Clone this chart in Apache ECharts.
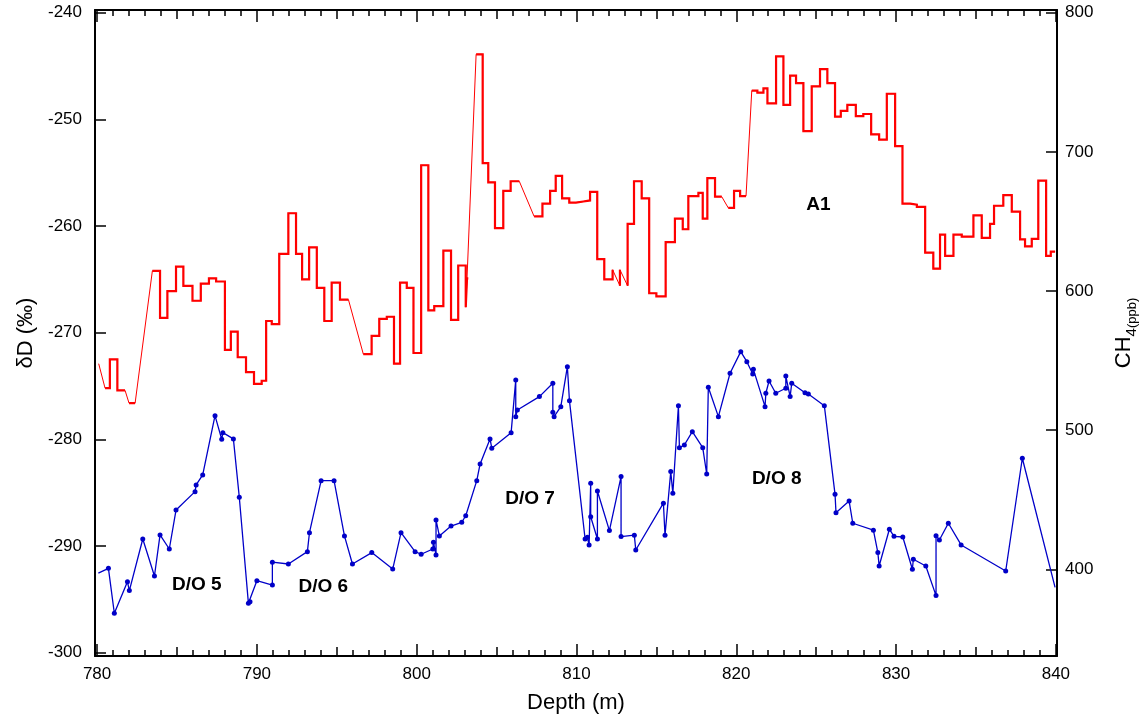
<!DOCTYPE html>
<html>
<head>
<meta charset="UTF-8">
<script src="https://cdn.jsdelivr.net/npm/echarts@6/dist/echarts.min.js"></script>
<style>
html, body { margin: 0; padding: 0; background: #fff; }
#chart { width: 1141px; height: 716px; }
</style>
</head>
<body>
<div id="chart"></div>
<script>
// ========================
// data
// ========================

// δD record: every sample covers a depth interval [top, bottom]
const dDTop = [
    780.1, 780.5, 780.8, 781.27, 782.0, 783.46, 783.94, 784.4, 784.94, 785.4,
    785.97, 786.49, 787.0, 787.45, 788.0, 788.37, 788.8, 789.32, 789.82, 790.3,
    790.58, 790.93, 791.4, 791.97, 792.45, 792.83, 793.27, 793.75, 794.22, 794.68,
    795.2, 796.66, 797.18, 797.66, 798.13, 798.58, 798.96, 799.38, 799.8, 800.28,
    800.73, 801.1, 801.67, 802.15, 802.6, 803.07, 803.15, 803.72, 804.13, 804.48,
    804.9, 805.42, 805.88, 807.35, 807.87, 808.35, 808.7, 809.1, 809.55, 809.97,
    810.43, 810.85, 811.3, 811.74, 812.26, 812.72, 812.72, 813.2, 813.2, 813.6,
    814.08, 814.55, 815.0, 815.58, 816.16, 816.65, 817.0, 817.63, 817.9, 818.19,
    818.67, 819.5, 819.86, 820.24, 820.97, 821.32, 821.7, 821.95, 822.49, 822.95,
    823.37, 823.74, 824.2, 824.72, 825.24, 825.7, 826.18, 826.54, 826.95, 827.48,
    827.95, 828.44, 828.94, 829.42, 829.94, 830.4, 830.88, 831.3, 831.82, 832.33,
    832.75, 833.07, 833.59, 834.11, 834.84, 835.36, 835.88, 836.13, 836.71, 837.24,
    837.76, 838.07, 838.49, 838.9, 839.39, 839.68
];
const dDBottom = [
    780.1, 780.8, 781.27, 781.75, 782.38, 783.94, 784.4, 784.94, 785.4, 785.97,
    786.49, 787.0, 787.45, 788.0, 788.37, 788.8, 789.32, 789.82, 790.3, 790.58,
    790.93, 791.4, 791.97, 792.45, 792.83, 793.27, 793.75, 794.22, 794.68, 795.2,
    795.73, 797.18, 797.66, 798.13, 798.58, 798.96, 799.38, 799.8, 800.28, 800.73,
    801.1, 801.67, 802.15, 802.6, 803.07, 803.15, 803.23, 804.13, 804.48, 804.9,
    805.42, 805.88, 806.42, 807.87, 808.35, 808.7, 809.1, 809.55, 809.97, 810.43,
    810.85, 811.3, 811.74, 812.26, 812.27, 812.72, 812.76, 813.2, 813.6, 814.08,
    814.55, 815.0, 815.58, 816.16, 816.65, 817.0, 817.63, 817.9, 818.19, 818.67,
    819.09, 819.86, 820.24, 820.61, 821.32, 821.7, 821.95, 822.49, 822.95, 823.37,
    823.74, 824.2, 824.72, 825.24, 825.7, 826.18, 826.54, 826.95, 827.48, 827.95,
    828.44, 828.94, 829.42, 829.94, 830.4, 830.88, 831.3, 831.82, 832.33, 832.75,
    833.07, 833.59, 834.11, 834.84, 835.36, 835.88, 836.13, 836.71, 837.24, 837.76,
    838.07, 838.49, 838.9, 839.39, 839.68, 839.95
];
const dDValue = [
    -272.9, -275.2, -272.5, -275.4, -276.6, -264.2, -268.6, -266.1, -263.8, -265.6,
    -267.0, -265.4, -264.9, -265.2, -271.6, -269.9, -272.3, -273.7, -274.8, -274.5,
    -268.9, -269.2, -262.6, -258.8, -262.6, -265.0, -262.0, -265.8, -268.9, -265.3,
    -266.9, -272.0, -270.3, -268.7, -268.5, -272.9, -265.3, -265.8, -271.9, -254.3,
    -267.9, -267.5, -262.3, -268.8, -263.7, -267.6, -264.9, -243.9, -254.1, -255.9,
    -260.2, -256.7, -255.8, -259.1, -257.9, -256.7, -255.3, -257.4, -257.8, -257.7,
    -257.6, -256.8, -263.1, -265.0, -264.1, -265.6, -264.1, -265.6, -259.8, -255.8,
    -257.4, -266.3, -266.6, -261.5, -259.3, -260.3, -257.2, -256.9, -259.3, -255.5,
    -257.25, -258.3, -256.7, -257.2, -247.3, -247.5, -247.1, -248.5, -244.1, -248.65,
    -245.9, -246.6, -251.1, -246.9, -245.3, -246.6, -249.75, -249.2, -248.65, -249.7,
    -249.5, -251.4, -251.9, -247.6, -252.5, -257.9, -258.0, -258.2, -262.5, -264.0,
    -260.8, -262.8, -260.8, -261.0, -259.0, -261.1, -259.8, -258.1, -257.1, -258.65,
    -261.25, -261.9, -261.2, -255.75, -262.8, -262.4
];

// CH4 samples (ppb)
const ch4Depth = [
    780.08, 780.71, 781.08, 781.9, 782.02, 782.86, 783.59, 783.94, 784.52, 784.94,
    786.13, 786.2, 786.61, 787.38, 787.8, 787.87, 788.53, 788.9, 789.47, 789.57,
    790.0, 790.97, 790.97, 791.97, 793.16, 793.29, 794.02, 794.83, 795.48, 795.98,
    797.19, 798.5, 799.02, 799.9, 800.28, 801.01, 801.05, 801.21, 801.21, 801.42,
    802.15, 802.82, 803.07, 803.76, 803.97, 804.59, 804.7, 805.91, 806.2, 806.2,
    806.3, 807.68, 808.52, 808.52, 808.6, 809.02, 809.43, 809.56, 810.54, 810.68,
    810.79, 810.89, 810.89, 811.31, 811.31, 812.06, 812.79, 812.79, 813.62, 813.71,
    815.44, 815.54, 815.9, 816.03, 816.38, 816.44, 816.75, 817.25, 817.9, 818.15,
    818.25, 818.88, 819.61, 820.28, 820.66, 821.03, 821.07, 821.8, 821.85, 822.05,
    822.47, 823.1, 823.1, 823.37, 823.47, 824.3, 824.51, 825.51, 826.18, 826.24,
    827.06, 827.29, 828.58, 828.86, 828.94, 829.58, 829.87, 830.42, 831.02, 831.08,
    831.86, 832.5, 832.5, 832.71, 833.27, 834.07, 836.86, 837.9, 839.95
];
const ch4Value = [
    397.2, 400.7, 368.4, 391.1, 384.7, 421.8, 395.2, 424.7, 414.6, 442.6,
    455.8, 460.6, 467.8, 510.4, 493.4, 498.2, 493.7, 451.8, 375.6, 376.7,
    391.8, 388.7, 405.1, 403.8, 412.7, 426.3, 463.7, 463.7, 424.0, 403.8,
    412.0, 400.2, 426.3, 412.7, 410.8, 414.6, 419.4, 410.3, 435.5, 424.0,
    431.1, 433.8, 438.5, 463.7, 475.7, 493.7, 487.0, 498.2, 536.1, 509.7,
    514.5, 524.1, 533.7, 512.8, 509.7, 516.9, 545.6, 521.2, 421.8, 423.0,
    417.5, 461.8, 437.8, 421.8, 456.3, 427.8, 466.6, 423.5, 424.5, 413.9,
    447.5, 424.5, 470.2, 454.6, 517.6, 487.4, 489.3, 498.9, 487.4, 468.5,
    530.8, 509.7, 540.9, 556.4, 549.2, 540.4, 543.7, 516.9, 526.5, 535.3,
    526.5, 530.1, 538.9, 524.1, 533.7, 526.9, 526.0, 517.6, 453.9, 440.7,
    449.1, 433.1, 428.1, 412.0, 402.4, 428.8, 423.7, 423.2, 400.0, 407.2,
    402.4, 381.1, 424.2, 421.1, 433.1, 417.5, 398.8, 479.8, 387.0
];

// tick labels
const depthTicks = [780, 790, 800, 810, 820, 830, 840];
const depthMidTicks = [785, 795, 805, 815, 825, 835];
const dDTicks = [-300, -290, -280, -270, -260, -250, -240];
const ch4Ticks = [400, 500, 600, 700, 800];

// event labels, placed in depth / δD units
const noteText = ['D/O 5', 'D/O 6', 'D/O 7', 'D/O 8', 'A1'];
const noteDepth = [786.24, 794.16, 807.09, 822.53, 825.14];
const noteDD = [-293.65, -293.78, -285.59, -283.65, -257.96];

// ========================
// axis ranges
// ========================

const X_MIN = 779.87, X_MAX = 840.07;
const Y_MIN = -300.3, Y_MAX = -239.75;
// right axis is tied to the left one: -240 -> 800 ppb, -300 -> 340 ppb
const toCH4 = v => 800 + (v + 240) * 460 / 60;

const depthMinorTicks = [];
for (let d = 781; d < 840; d++) {
    if (d % 5 !== 0) depthMinorTicks.push(d);
}

// ========================
// series data
// ========================

const dDThin = [];
const dDThick = [];
for (let i = 0; i < dDTop.length; i++) {
    dDThin.push([dDTop[i], dDValue[i]], [dDBottom[i], dDValue[i]]);
    dDThick.push([dDTop[i], dDValue[i]], [dDBottom[i], dDValue[i]]);
    if (i < dDTop.length - 1 && dDTop[i + 1] !== dDBottom[i]) {
        dDThick.push([dDBottom[i], '-']);
    }
}

const ch4Data = ch4Depth.map((d, i) => {
    const item = { value: [d, ch4Value[i]] };
    if (i === 0 || i === ch4Depth.length - 1) item.symbol = 'none';
    return item;
});

const noteData = noteText.map((t, i) => ({ name: t, value: [noteDepth[i], noteDD[i]] }));

// ========================
// chart
// ========================

const FONT = 'Liberation Sans, Arial, sans-serif';
const BLACK = '#000';

function depthAxis(position, ticks, len, extra) {
    return Object.assign({
        type: 'value',
        position: position,
        min: X_MIN,
        max: X_MAX,
        axisLine: { show: false },
        splitLine: { show: false },
        axisLabel: { show: false },
        axisTick: {
            show: true, inside: true, length: len, customValues: ticks,
            lineStyle: { color: BLACK, width: 1.5 }
        }
    }, extra || {});
}

const frameLine = { show: true, onZero: false, lineStyle: { color: BLACK, width: 2 } };

const chart = echarts.init(document.getElementById('chart'));

chart.setOption({
    animation: false,
    backgroundColor: '#fff',
    textStyle: { fontFamily: FONT },
    grid: { left: 95, right: 84, top: 10, bottom: 60, outerBoundsMode: 'none', containLabel: false },
    xAxis: [
        depthAxis('bottom', depthTicks, 12, {
            axisLine: frameLine,
            axisLabel: { show: true, customValues: depthTicks, fontSize: 17, color: BLACK, margin: 10, fontFamily: FONT },
            name: 'Depth (m)',
            nameLocation: 'middle',
            nameGap: 36,
            nameTextStyle: { fontSize: 22, color: BLACK, fontFamily: FONT }
        }),
        depthAxis('bottom', depthMidTicks, 9),
        depthAxis('bottom', depthMinorTicks, 6),
        depthAxis('top', depthTicks, 12, { axisLine: frameLine }),
        depthAxis('top', depthMidTicks, 9),
        depthAxis('top', depthMinorTicks, 6)
    ],
    yAxis: [
        {
            type: 'value',
            position: 'left',
            min: Y_MIN,
            max: Y_MAX,
            axisLine: frameLine,
            splitLine: { show: false },
            axisTick: { show: true, inside: true, length: 11, customValues: dDTicks, lineStyle: { color: BLACK, width: 1.5 } },
            axisLabel: { customValues: dDTicks, fontSize: 17, color: BLACK, margin: 13, fontFamily: FONT },
            name: 'δD (‰)',
            nameLocation: 'middle',
            nameRotate: 90,
            nameGap: 58,
            nameTextStyle: { fontSize: 22, color: BLACK, fontFamily: FONT }
        },
        {
            type: 'value',
            position: 'right',
            min: toCH4(Y_MIN),
            max: toCH4(Y_MAX),
            axisLine: frameLine,
            splitLine: { show: false },
            axisTick: { show: true, inside: true, length: 11, customValues: ch4Ticks, lineStyle: { color: BLACK, width: 1.5 } },
            axisLabel: { customValues: ch4Ticks, fontSize: 17, color: BLACK, margin: 8, fontFamily: FONT },
            name: '{m|CH}{s|4}{p|(ppb)}',
            nameLocation: 'middle',
            nameRotate: 90,
            nameGap: 52,
            nameTextStyle: {
                color: BLACK,
                fontFamily: FONT,
                rich: {
                    m: { fontSize: 22, lineHeight: 30, verticalAlign: 'middle', color: BLACK, fontFamily: FONT },
                    s: { fontSize: 15, verticalAlign: 'bottom', lineHeight: 30, color: BLACK, fontFamily: FONT },
                    p: { fontSize: 13, verticalAlign: 'bottom', lineHeight: 30, color: BLACK, fontFamily: FONT }
                }
            }
        }
    ],
    series: [
        {
            name: 'dD-link',
            type: 'line',
            xAxisIndex: 0,
            yAxisIndex: 0,
            data: dDThin,
            showSymbol: false,
            symbol: 'none',
            lineStyle: { color: '#ff0000', width: 1 },
            z: 3
        },
        {
            name: 'dD',
            type: 'line',
            xAxisIndex: 0,
            yAxisIndex: 0,
            data: dDThick,
            showSymbol: false,
            symbol: 'none',
            connectNulls: false,
            lineStyle: { color: '#ff0000', width: 2.2, join: 'miter' },
            z: 4
        },
        {
            name: 'CH4',
            type: 'line',
            xAxisIndex: 0,
            yAxisIndex: 1,
            data: ch4Data,
            symbol: 'circle',
            symbolSize: 5,
            showAllSymbol: true,
            itemStyle: { color: '#0000c8' },
            lineStyle: { color: '#0000c8', width: 1.3 },
            z: 2
        },
        {
            name: 'notes',
            type: 'scatter',
            xAxisIndex: 0,
            yAxisIndex: 0,
            data: noteData,
            symbolSize: 0,
            silent: true,
            itemStyle: { opacity: 1 },
            label: {
                show: true,
                position: 'inside',
                formatter: p => p.name,
                fontSize: 19,
                fontWeight: 'bold',
                color: BLACK,
                opacity: 1,
                fontFamily: FONT
            },
            z: 5
        }
    ]
});
</script>
</body>
</html>
